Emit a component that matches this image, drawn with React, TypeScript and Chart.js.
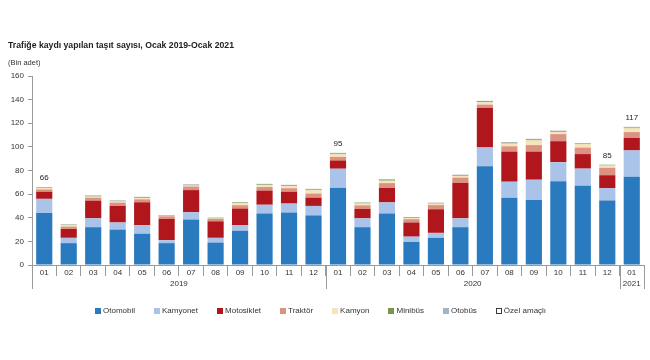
import React, { useEffect, useRef } from 'react';
import { Chart, registerables } from 'chart.js';
Chart.register(...registerables);

const months = ['01','02','03','04','05','06','07','08','09','10','11','12','01','02','03','04','05','06','07','08','09','10','11','12','01'];
const years = ['2019', '2020', '2021'];
const yearSpans = [12, 12, 1];

const otomobil   = [44, 18.5, 32, 30, 26.5, 18.5, 38.5, 19, 29, 43.5, 44.5, 42, 65.5, 32, 43.5, 19.5, 23, 32, 83.5, 57, 55, 71, 67, 54.5, 74.7];
const kamyonet   = [12, 4.5, 7.5, 6, 7.3, 2.5, 6.2, 4, 4.8, 7.5, 7.5, 8, 16, 7.5, 9.5, 4.5, 4.2, 7.5, 16, 13.5, 17.2, 16, 14.6, 10.5, 22.3];
const motosiklet = [6, 7.5, 15, 14, 19.3, 18, 18.7, 14, 14, 12, 10, 7, 7, 8, 12.3, 12, 20, 30, 33.5, 25.5, 23.8, 17.8, 12.3, 11, 10.5];
const traktor    = [2, 2, 2.5, 2.8, 2.5, 2.2, 3, 2, 2.8, 3, 3, 3.5, 3, 3, 4, 2.8, 3.5, 4.5, 2.8, 4.5, 5.5, 6, 5.5, 6.3, 5];
const kamyon     = [1.1, 1.2, 1.0, 1.0, 1.1, 0.5, 0.9, 0.4, 1.7, 1.6, 1.8, 2.8, 2.2, 1.6, 2.1, 1.0, 1.3, 1.5, 2, 2.3, 4.0, 1.9, 2.8, 1.9, 3.2];
const minibus    = [0.5, 0.4, 0.5, 0.5, 0.5, 0.4, 0.6, 0.4, 0.6, 0.6, 0.6, 0.6, 0.7, 0.6, 0.7, 0.5, 0.5, 0.6, 0.8, 0.7, 0.8, 0.6, 0.6, 0.4, 0.6];
const otobus     = [0.2, 0.2, 0.2, 0.2, 0.2, 0.2, 0.2, 0.2, 0.2, 0.2, 0.2, 0.3, 0.3, 0.2, 0.3, 0.2, 0.2, 0.2, 0.3, 0.3, 0.3, 0.2, 0.2, 0.2, 0.3];
const ozelAmacli = [0.3, 0.3, 0.3, 0.3, 0.3, 0.3, 0.3, 0.2, 0.3, 0.3, 0.3, 0.3, 0.3, 0.3, 0.3, 0.2, 0.3, 0.3, 0.2, 0.3, 0.3, 0.3, 0.3, 0.3, 0.4];

const labeledIdx = [0, 12, 23, 24];
const yTicksMax = 160;
const yStep = 20;

const seriesNames = ['Otomobil', 'Kamyonet', 'Motosiklet', 'Traktör', 'Kamyon', 'Minibüs', 'Otobüs', 'Özel amaçlı'];
const seriesData = [otomobil, kamyonet, motosiklet, traktor, kamyon, minibus, otobus, ozelAmacli];
const seriesColors = ['#2a7abf', '#a9c4e8', '#b0161c', '#dc9282', '#f7e4b8', '#77974a', '#7d8c9c', '#ffffff'];
const seriesBorders = ['#2a7abf', '#a9c4e8', '#b0161c', '#dc9282', '#f7e4b8', '#77974a', '#7d8c9c', '#3a3a3a'];
const legendColors = ['#2a7abf', '#a9c4e8', '#b0161c', '#dc9282', '#f7e4b8', '#77974a', '#a3b4c6', '#ffffff'];

const FONT = '"Liberation Sans", Arial, sans-serif';

export default function App() {
  const ref = useRef<HTMLCanvasElement>(null);
  useEffect(() => {
    document.body.style.margin = '0';
    Chart.defaults.font.family = FONT;
    const yearPlugin = {
      id: 'years',
      afterDraw(chart: any) {
        const ctx = chart.ctx;
        const xs = chart.scales.x;
        const bottom = chart.chartArea.bottom;
        const half = (xs.getPixelForValue(1) - xs.getPixelForValue(0)) / 2;
        const bound = (i: number) => i < months.length ? xs.getPixelForValue(i) - half : xs.getPixelForValue(months.length - 1) + half;
        ctx.save();
        ctx.strokeStyle = '#9a9a9a';
        ctx.lineWidth = 1;
        ctx.fillStyle = '#333';
        ctx.font = '8px ' + FONT;
        ctx.textAlign = 'center';
        ctx.textBaseline = 'middle';
        let start = 0;
        const drawLine = (px: number) => {
          const x = Math.round(px) + 0.5;
          ctx.beginPath();
          ctx.moveTo(x, bottom);
          ctx.lineTo(x, bottom + 24);
          ctx.stroke();
        };
        drawLine(bound(0));
        yearSpans.forEach((span, k) => {
          const end = start + span;
          drawLine(bound(end));
          ctx.fillText(years[k], (bound(start) + bound(end)) / 2, bottom + 19);
          start = end;
        });
        ctx.restore();
      },
    };
    const totalsPlugin = {
      id: 'totals',
      afterDatasetsDraw(chart: any) {
        const ctx = chart.ctx;
        const xs = chart.scales.x;
        const ys = chart.scales.y;
        ctx.save();
        ctx.fillStyle = '#222';
        ctx.font = '8px ' + FONT;
        ctx.textAlign = 'center';
        ctx.textBaseline = 'bottom';
        labeledIdx.forEach((i) => {
          const total = seriesData.reduce((s, arr) => s + arr[i], 0);
          ctx.fillText(String(Math.round(total)), xs.getPixelForValue(i), ys.getPixelForValue(total) - 5);
        });
        ctx.restore();
      },
    };
    const chart = new Chart(ref.current as HTMLCanvasElement, {
      type: 'bar',
      data: {
        labels: months,
        datasets: seriesNames.map((name, k) => ({
          label: name,
          data: seriesData[k],
          backgroundColor: seriesColors[k],
          borderColor: seriesBorders[k],
          borderWidth: k === 7 ? 1 : 0,
          barPercentage: 0.66,
          categoryPercentage: 1,
        })),
      },
      options: {
        responsive: false,
        animation: false,
        layout: { padding: { top: 76, right: 6, left: 0, bottom: 0 } },
        plugins: { legend: { display: false }, tooltip: { enabled: false }, title: { display: false } },
        scales: {
          x: {
            stacked: true,
            offset: true,
            grid: { offset: true, drawOnChartArea: false, drawTicks: true, tickLength: 11, color: '#9a9a9a' },
            border: { color: '#9a9a9a' },
            ticks: { color: '#333', font: { size: 8 }, padding: -8, maxRotation: 0, autoSkip: false },
            afterFit: (s: any) => { s.height = 95; },
          },
          y: {
            stacked: true,
            min: 0,
            max: yTicksMax,
            grid: { drawOnChartArea: false, drawTicks: true, tickLength: 4, color: '#9a9a9a' },
            border: { color: '#9a9a9a' },
            ticks: { stepSize: yStep, color: '#333', font: { size: 8 }, padding: 4 },
            afterFit: (s: any) => { s.width = 32; },
          },
        },
      },
      plugins: [yearPlugin, totalsPlugin],
    });
    return () => chart.destroy();
  }, []);

  return (
    <div style={{ position: 'relative', width: 650, height: 360, fontFamily: FONT, background: '#fff' }}>
      <canvas ref={ref} width={650} height={360} style={{ display: 'block' }} />
      <div style={{ position: 'absolute', left: 8, top: 40, fontSize: 8.7, fontWeight: 'bold', color: '#222', whiteSpace: 'nowrap' }}>
        Trafiğe kaydı yapılan taşıt sayısı, Ocak 2019-Ocak 2021
      </div>
      <div style={{ position: 'absolute', left: 8, top: 58, fontSize: 7.5, color: '#333', whiteSpace: 'nowrap' }}>
        (Bin adet)
      </div>
      <div style={{ position: 'absolute', left: 95, top: 306, display: 'flex', gap: 19, fontSize: 8, color: '#333', whiteSpace: 'nowrap' }}>
        {seriesNames.map((name, k) => (
          <div key={name} style={{ display: 'flex', alignItems: 'center' }}>
            <span style={{ display: 'inline-block', width: 4, height: 4, background: legendColors[k], border: `1px solid ${k === 7 ? '#3a3a3a' : legendColors[k]}`, marginRight: 2 }} />
            <span>{name}</span>
          </div>
        ))}
      </div>
    </div>
  );
}
